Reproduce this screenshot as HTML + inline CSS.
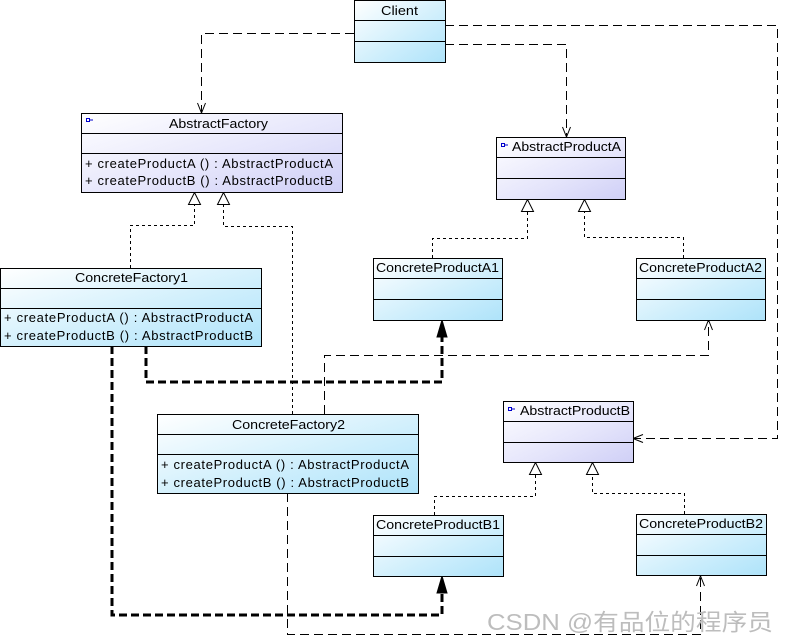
<!DOCTYPE html>
<html><head><meta charset="utf-8"><style>
html,body{margin:0;padding:0;background:#fff;}
svg{display:block}
text{font-family:"Liberation Sans",Arial,sans-serif;font-size:13px;fill:#000}
</style></head><body>
<svg width="790" height="643" viewBox="0 0 790 643">
<defs>
<linearGradient id="cy" x1="0" y1="0" x2="1" y2="1"><stop offset="0" stop-color="#ffffff"/><stop offset="0.6" stop-color="#cdeefc"/><stop offset="1" stop-color="#aee3fa"/></linearGradient>
<linearGradient id="lv" x1="0" y1="0" x2="1" y2="1"><stop offset="0" stop-color="#ffffff"/><stop offset="0.6" stop-color="#e4e4fb"/><stop offset="1" stop-color="#cfcff6"/></linearGradient>
</defs>

<g fill="none" stroke="#000" stroke-width="1">
 <g stroke-dasharray="9,5">
  <path d="M354 33.5 H201.5 V113"/>
  <path d="M445 44.5 H566.5 V137"/>
  <path d="M445 25.5 H777.5 V438.5 H633"/>
  <path d="M324.5 414 V355.5 H708.5 V320"/>
  <path d="M287.5 493 V634.5 H700.5 V576"/>
 </g>
 <g stroke-dasharray="3,3">
  <path d="M130.5 268 V225.5 H194.5 V204"/>
  <path d="M292.5 414 V226.5 H223.5 V204"/>
  <path d="M432.5 258 V238.5 H527.5 V211"/>
  <path d="M683.5 258 V237.5 H584.5 V211"/>
  <path d="M434.5 515 V496.5 H535.5 V474"/>
  <path d="M684.5 514 V493.5 H592.5 V474"/>
 </g>
 <g stroke-width="3" stroke-dasharray="8,4">
  <path d="M146 346 V382 H442 V336"/>
  <path d="M112 346 V615 H442 V592"/>
 </g>
 <path d="M197.5 103 L201.5 113 L205.5 103"/>
 <path d="M562.5 127 L566.5 137 L570.5 127"/>
 <path d="M643 434.5 L633 438.5 L643 442.5"/>
 <path d="M704.5 330 L708.5 320 L712.5 330"/>
 <path d="M696.5 586 L700.5 576 L704.5 586"/>
 <g fill="#fff">
  <path d="M194.5 192.5 L188.5 204.5 L200.5 204.5 Z"/>
  <path d="M223.5 192.5 L217.5 204.5 L229.5 204.5 Z"/>
  <path d="M527.5 199.5 L521.5 211.5 L533.5 211.5 Z"/>
  <path d="M584.5 199.5 L578.5 211.5 L590.5 211.5 Z"/>
  <path d="M535.5 462.5 L529.5 474.5 L541.5 474.5 Z"/>
  <path d="M592.5 462.5 L586.5 474.5 L598.5 474.5 Z"/>
 </g>
 <path d="M442 320 L437 337 L447 337 Z" fill="#000"/>
 <path d="M442 576 L437 593 L447 593 Z" fill="#000"/>
</g>

<g stroke="#000" stroke-width="1">
 <rect x="354.5" y="0.5" width="91" height="62" fill="url(#cy)"/>
 <path d="M354 20.5 H445 M354 41.5 H445"/>
 <rect x="81.5" y="113.5" width="261" height="79" fill="url(#lv)"/>
 <path d="M81 133.5 H342 M81 153.5 H342"/>
 <rect x="496.5" y="137.5" width="129" height="62" fill="url(#lv)"/>
 <path d="M496 157.5 H625 M496 178.5 H625"/>
 <rect x="0.5" y="268.5" width="261" height="78" fill="url(#cy)"/>
 <path d="M0 288.5 H261 M0 308.5 H261"/>
 <rect x="373.5" y="258.5" width="129" height="62" fill="url(#cy)"/>
 <path d="M373 278.5 H502 M373 299.5 H502"/>
 <rect x="636.5" y="258.5" width="129" height="62" fill="url(#cy)"/>
 <path d="M636 278.5 H765 M636 299.5 H765"/>
 <rect x="157.5" y="414.5" width="261" height="79" fill="url(#cy)"/>
 <path d="M157 434.5 H418 M157 454.5 H418"/>
 <rect x="503.5" y="401.5" width="130" height="61" fill="url(#lv)"/>
 <path d="M503 421.5 H633 M503 442.5 H633"/>
 <rect x="373.5" y="515.5" width="130" height="61" fill="url(#cy)"/>
 <path d="M373 535.5 H503 M373 556.5 H503"/>
 <rect x="636.5" y="514.5" width="130" height="61" fill="url(#cy)"/>
 <path d="M636 534.5 H766 M636 555.5 H766"/>
</g>
<g stroke="#00c" fill="none" stroke-width="1">
 <rect x="86.5" y="118.5" width="3" height="3"/><path d="M90 120 H93"/>
 <rect x="501.5" y="143.5" width="3" height="3"/><path d="M505 145 H508"/>
 <rect x="508.5" y="407.5" width="3" height="3"/><path d="M512 409 H515"/>
</g>

<text x="381" y="15" textLength="37" lengthAdjust="spacingAndGlyphs">Client</text>
<text x="169" y="128" textLength="99" lengthAdjust="spacingAndGlyphs">AbstractFactory</text>
<text x="85" y="168" textLength="248" lengthAdjust="spacing">+  createProductA ()  : AbstractProductA</text>
<text x="85" y="185" textLength="248" lengthAdjust="spacing">+  createProductB ()  : AbstractProductB</text>
<text x="512" y="151" textLength="109" lengthAdjust="spacingAndGlyphs">AbstractProductA</text>
<text x="75" y="282" textLength="113" lengthAdjust="spacingAndGlyphs">ConcreteFactory1</text>
<text x="4" y="322" textLength="249" lengthAdjust="spacing">+  createProductA ()  : AbstractProductA</text>
<text x="4" y="340" textLength="249" lengthAdjust="spacing">+  createProductB ()  : AbstractProductB</text>
<text x="376" y="272" textLength="123" lengthAdjust="spacingAndGlyphs">ConcreteProductA1</text>
<text x="639" y="272" textLength="123" lengthAdjust="spacingAndGlyphs">ConcreteProductA2</text>
<text x="232" y="429" textLength="113" lengthAdjust="spacingAndGlyphs">ConcreteFactory2</text>
<text x="161" y="469" textLength="248" lengthAdjust="spacing">+  createProductA ()  : AbstractProductA</text>
<text x="161" y="487" textLength="248" lengthAdjust="spacing">+  createProductB ()  : AbstractProductB</text>
<text x="520" y="415" textLength="110" lengthAdjust="spacingAndGlyphs">AbstractProductB</text>
<text x="376" y="529" textLength="124" lengthAdjust="spacingAndGlyphs">ConcreteProductB1</text>
<text x="639" y="528" textLength="124" lengthAdjust="spacingAndGlyphs">ConcreteProductB2</text>
<text x="487" y="630" textLength="286" lengthAdjust="spacingAndGlyphs" style="font-family:'Liberation Sans','Noto Sans CJK SC',sans-serif;font-size:23px;fill:#bdbdbd">CSDN @有品位的程序员</text>
</svg>
</body></html>
